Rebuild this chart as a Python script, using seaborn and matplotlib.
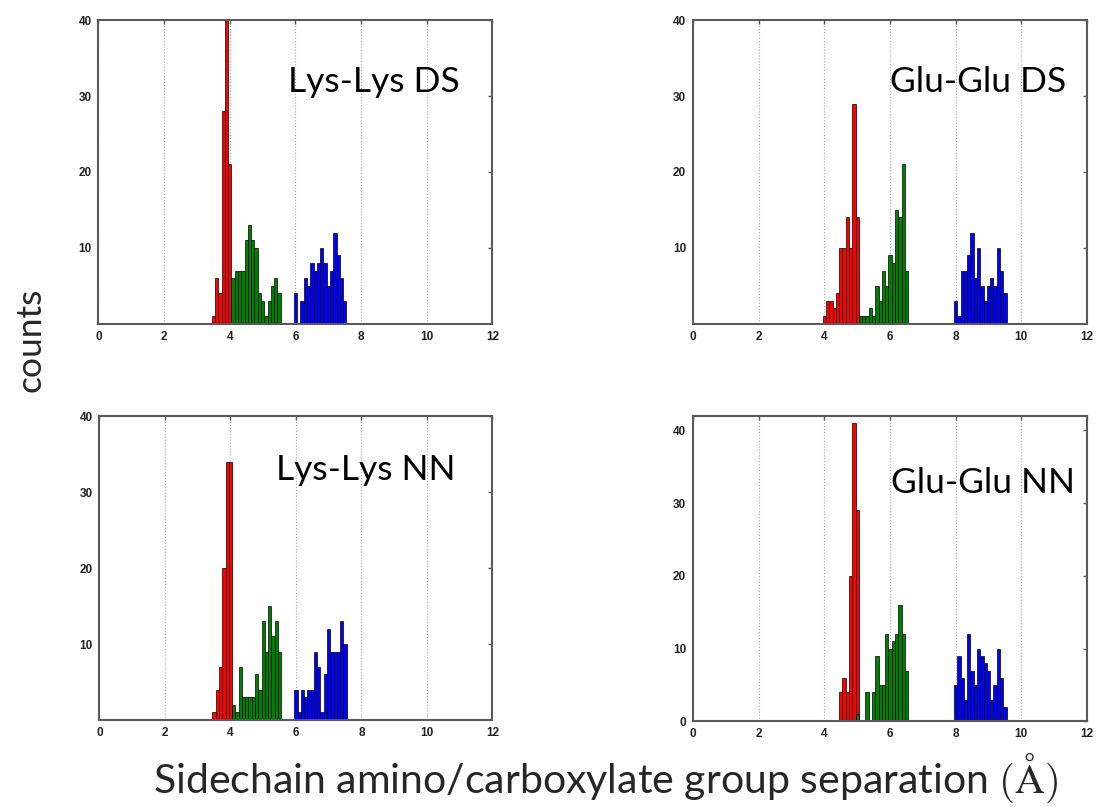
import numpy as np
import pandas as pd
import seaborn as sns
import matplotlib.pyplot as plt

# counts per 0.1 A bin; *_starts holds the centre of the first bin of red, green, blue
lys_ds_red = [1, 6, 4, 28, 40, 21]
lys_ds_green = [6, 7, 7, 7, 11, 13, 11, 10, 4, 3, 1, 3, 5, 6, 4]
lys_ds_blue = [4, 0, 3, 6, 5, 8, 7, 8, 10, 8, 5, 7, 12, 9, 6, 3]
lys_ds_starts = [3.5, 4.1, 6.0]

glu_ds_red = [1, 3, 3, 2, 4, 10, 10, 14, 10, 29, 14]
glu_ds_green = [1, 1, 1, 2, 1, 5, 3, 7, 5, 9, 8, 15, 14, 21, 7]
glu_ds_blue = [3, 1, 7, 7, 9, 12, 6, 10, 5, 3, 5, 6, 5, 10, 7, 4]
glu_ds_starts = [4.0, 5.1, 8.0]

lys_nn_red = [1, 4, 7, 20, 34, 34]
lys_nn_green = [2, 1, 7, 3, 3, 3, 3, 6, 4, 13, 9, 15, 11, 13, 9]
lys_nn_blue = [4, 1, 4, 3, 4, 4, 9, 7, 1, 6, 12, 9, 9, 9, 13, 10]
lys_nn_starts = [3.5, 4.1, 6.0]

glu_nn_red = [4, 6, 4, 20, 41, 29]
glu_nn_green = [1, 0, 0, 4, 0, 4, 9, 5, 5, 12, 10, 11, 12, 16, 12, 7]
glu_nn_blue = [5, 9, 6, 3, 12, 7, 5, 10, 9, 8, 7, 3, 5, 10, 6, 2]
glu_nn_starts = [4.5, 5.0, 8.0]

titles = ['Lys-Lys DS', 'Glu-Glu DS', 'Lys-Lys NN', 'Glu-Glu NN']
x_ticks = [0, 2, 4, 6, 8, 10, 12]

sns.set_style('white')
plt.rcParams['font.family'] = ['Lato', 'DejaVu Sans']
plt.rcParams['mathtext.fontset'] = 'cm'

COLORS = ['#ff0000', '#008000', '#0000ff']
FRAME = '#5a5a5a'


def draw_panel(ax, starts, series, ymax, yticks, title, title_xy):
    for start, counts, color in zip(starts, series, COLORS):
        centers = np.round(start + 0.1 * np.arange(len(counts)), 2)
        edges = np.round(np.append(centers - 0.05, centers[-1] + 0.05), 3).tolist()
        df = pd.DataFrame({'sep': centers, 'n': counts})
        sns.histplot(data=df, x='sep', weights='n', bins=edges, color=color,
                     edgecolor='black', linewidth=0.5, alpha=1, ax=ax)
    ax.set_xlim(0, 12)
    ax.set_ylim(0, ymax)
    ax.set_xticks(x_ticks)
    ax.set_yticks(yticks)
    ax.set_xlabel('')
    ax.set_ylabel('')
    ax.grid(axis='x', linestyle=':', color='#a8a8a8', linewidth=0.8)
    ax.set_axisbelow(True)
    ax.tick_params(direction='in', length=3, width=1, color=FRAME,
                   top=True, right=True, labelsize=8.5, pad=5)
    for lab in ax.get_xticklabels() + ax.get_yticklabels():
        lab.set_family(['Liberation Sans', 'DejaVu Sans'])
        lab.set_fontweight('bold')
        lab.set_color('#222222')
    for sp in ax.spines.values():
        sp.set_color(FRAME)
        sp.set_linewidth(1.5)
    ax.text(title_xy[0], title_xy[1], title, transform=ax.transAxes,
            ha='center', va='center', fontsize=25.5, color='black')


fig = plt.figure(figsize=(10.99, 8.07), dpi=100)
ax1 = fig.add_axes([0.0896, 0.599, 0.3585, 0.376])
ax2 = fig.add_axes([0.6306, 0.599, 0.3585, 0.376])
ax3 = fig.add_axes([0.0905, 0.1078, 0.3575, 0.3767])
ax4 = fig.add_axes([0.6306, 0.106, 0.3585, 0.3786])

draw_panel(ax1, lys_ds_starts, [lys_ds_red, lys_ds_green, lys_ds_blue],
           40, [10, 20, 30, 40], titles[0], (0.70, 0.796))
draw_panel(ax2, glu_ds_starts, [glu_ds_red, glu_ds_green, glu_ds_blue],
           40, [10, 20, 30, 40], titles[1], (0.723, 0.796))
draw_panel(ax3, lys_nn_starts, [lys_nn_red, lys_nn_green, lys_nn_blue],
           40, [10, 20, 30, 40], titles[2], (0.677, 0.822))
draw_panel(ax4, glu_nn_starts, [glu_nn_red, glu_nn_green, glu_nn_blue],
           42, [0, 10, 20, 30, 40], titles[3], (0.735, 0.78))

fig.text(0.028, 0.579, 'counts', rotation=90, ha='center', va='center', fontsize=25.5)
fig.text(0.551, 0.036, r'Sidechain amino/carboxylate group separation $(\mathrm{\AA})$',
         ha='center', va='center', fontsize=29.5)

fig.savefig('out.png', dpi=100)
